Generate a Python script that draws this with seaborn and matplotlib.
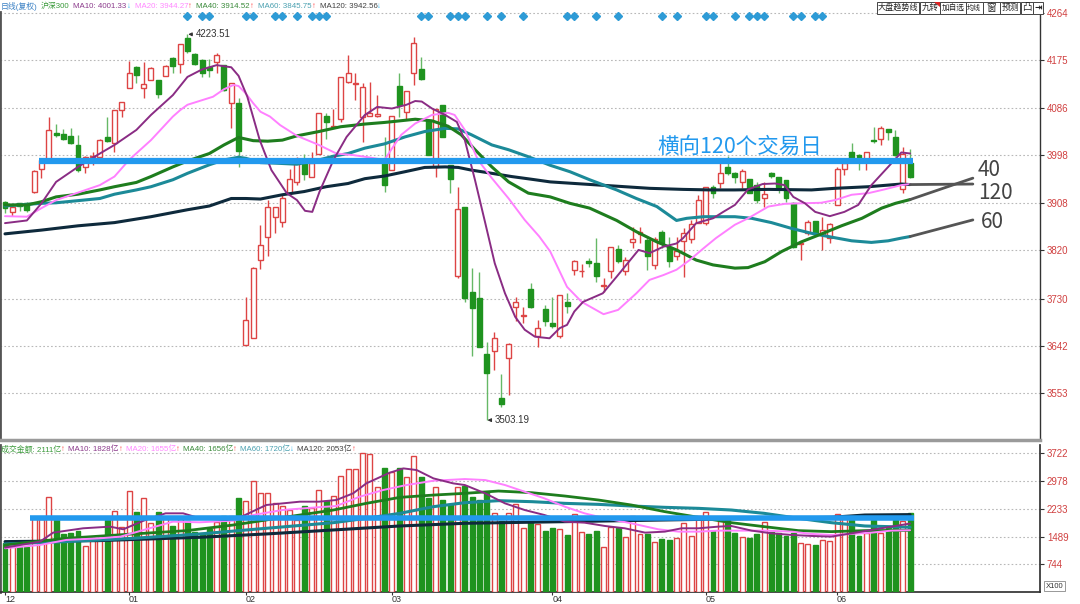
import numpy as np
import pandas as pd
import matplotlib
matplotlib.use("Agg")
import matplotlib.pyplot as plt
import seaborn as sns
from matplotlib.patches import Rectangle, Polygon
from matplotlib import font_manager

# ---------------- data ----------------
opens = [3911, 3891, 3908, 3909, 3930, 3973, 3990, 4040, 4037, 4034,
         4017, 3975, 3994, 3995, 4031, 4020, 4082, 4123, 4163, 4123,
         4138, 4139, 4146, 4179, 4168, 4216, 4187, 4176, 4163, 4172,
         4166, 4095, 4095, 3644, 3656, 3803, 3845, 3882, 3874, 3927,
         3947, 3983, 3957, 4001, 4071, 4051, 4065, 4135, 4131, 4069,
         4071, 4071, 3983, 3971, 4127, 4079, 4152, 4159, 4064, 3976,
         4092, 3980, 3772, 3901, 3743, 3731, 3627, 3633, 3545, 3619,
         3714, 3697, 3748, 3660, 3710, 3685, 3660, 3723, 3784, 3781,
         3801, 3796, 3753, 3782, 3822, 3782, 3835, 3850, 3840, 3793,
         3854, 3827, 3810, 3838, 3841, 3871, 3871, 3939, 3945, 3976,
         3964, 3948, 3953, 3943, 3917, 3965, 3957, 3952, 3909, 3832,
         3852, 3875, 3849, 3843, 3905, 3973, 4003, 3998, 3990, 4026,
         4029, 4047, 4032, 3934, 3983]
highs = [3913, 3905, 3909, 3910, 3970, 3990, 4069, 4057, 4046, 4048,
         4036, 3996, 4003, 4029, 4069, 4083, 4098, 4174, 4164, 4171,
         4163, 4139, 4166, 4182, 4205, 4223.51, 4188, 4177, 4177, 4188,
         4167, 4132, 4104, 3734, 3789, 3868, 3915, 3901, 3924, 3972,
         3995, 4001, 4003, 4077, 4076, 4085, 4144, 4185, 4151, 4132,
         4135, 4110, 4032, 4071, 4151, 4118, 4218, 4182, 4064, 4085,
         4092, 3980, 3938, 3901, 3788, 3779, 3650, 3667, 3589, 3647,
         3734, 3715, 3759, 3691, 3718, 3734, 3736, 3740, 3803, 3794,
         3805, 3843, 3768, 3827, 3831, 3808, 3864, 3864, 3843, 3846,
         3858, 3846, 3846, 3861, 3877, 3924, 3939, 3942, 3983, 3996,
         3967, 3973, 3953, 3948, 3948, 3967, 3958, 3952, 3911, 3836,
         3876, 3875, 3883, 3872, 3976, 3992, 4020, 4000, 4003, 4051,
         4052, 4047, 4045, 4014, 4009]
lows = [3889, 3885, 3893, 3891, 3928, 3955, 3990, 4031, 4026, 4019,
        3967, 3965, 3980, 3995, 4023, 4004, 4070, 4123, 4132, 4104,
        4138, 4104, 4146, 4151, 4151, 4189, 4166, 4143, 4144, 4151,
        4117, 4048, 3975, 3644, 3656, 3785, 3810, 3852, 3863, 3924,
        3942, 3952, 3957, 4001, 4029, 4051, 4059, 4132, 4100, 4023,
        4071, 4069, 3930, 3971, 4070, 4064, 4129, 4138, 3998, 3958,
        4031, 3928, 3768, 3723, 3622, 3639, 3503.19, 3597, 3528, 3550,
        3689, 3684, 3712, 3640, 3679, 3675, 3656, 3703, 3774, 3771,
        3789, 3762, 3743, 3768, 3796, 3774, 3824, 3833, 3783, 3785,
        3824, 3790, 3803, 3771, 3833, 3871, 3867, 3917, 3937, 3961,
        3945, 3936, 3927, 3908, 3902, 3955, 3927, 3911, 3824, 3802,
        3849, 3851, 3821, 3833, 3905, 3961, 3986, 3971, 3970, 4020,
        4017, 4026, 3996, 3928, 3955]
closes = [3899, 3902, 3903, 3896, 3969, 3989, 4045, 4035, 4029, 4020,
          3970, 3994, 3997, 4027, 4025, 4083, 4098, 4152, 4148, 4130,
          4161, 4112, 4164, 4164, 4205, 4193, 4169, 4151, 4157, 4185,
          4120, 4132, 4006, 3690, 3787, 3830, 3901, 3901, 3917, 3953,
          3983, 3963, 3983, 4077, 4059, 4052, 4144, 4151, 4133, 4125,
          4076, 4075, 3942, 4071, 4092, 4118, 4207, 4140, 3998, 4085,
          4031, 3953, 3897, 3731, 3712, 3639, 3592, 3656, 3533, 3645,
          3724, 3700, 3714, 3676, 3688, 3679, 3736, 3716, 3800, 3782,
          3796, 3772, 3755, 3827, 3801, 3803, 3841, 3855, 3810, 3841,
          3833, 3801, 3819, 3852, 3869, 3914, 3938, 3928, 3965, 3964,
          3958, 3969, 3927, 3915, 3925, 3959, 3939, 3917, 3827, 3834,
          3874, 3851, 3858, 3869, 3973, 3983, 3989, 3987, 4003, 4024,
          4048, 4042, 3998, 4001, 3958]
volumes = [1327, 1230, 1220, 1202, 2000, 1950, 2543, 1953, 1560, 1595,
           1640, 1238, 1399, 1399, 1935, 2186, 1756, 2722, 2159, 2516,
           1846, 2141, 1980, 1783, 1953, 1917, 1622, 1577, 1685, 1890,
           2051, 2042, 2516, 2454, 2990, 2668, 2650, 2382, 2320, 2203,
           1935, 2311, 2266, 2740, 2454, 2588, 3124, 3294, 3294, 3742,
           3697, 2829, 3321, 3214, 3339, 3098, 3661, 3080, 2534, 2829,
           2472, 2364, 2829, 2856, 2543, 2472, 2695, 2132, 1917, 2114,
           2355, 1729, 1873, 1828, 1640, 1729, 1703, 1533, 2096, 1622,
           1560, 1649, 1220, 1738, 1712, 1488, 2051, 1551, 1560, 1354,
           1434, 1399, 1461, 1863, 1515, 2050, 2160, 1649, 1908, 1935,
           1595, 1470, 1443, 1551, 1890, 1604, 1595, 1506, 1595, 1309,
           1282, 1264, 1399, 1372, 2096, 1980, 1935, 1506, 1577, 1935,
           1595, 1712, 1935, 1917, 2111]

# price moving averages (bar index, value)
ma10_x = [0, 3, 5, 7, 10, 13, 15, 18, 20, 23, 25, 27, 29, 31, 32, 33.2, 34.9, 36.5, 38.6, 40,
          41.1, 42.1, 43.1, 45, 46.8, 49.3, 51, 53, 55, 56.2, 57.1, 58.5, 60.3, 61.9, 63, 64.4,
          65.8, 67.1, 68.5, 69.9, 71.2, 72.6, 74.6, 76, 77, 78, 79.2, 81.9, 83.8, 86.8, 88.3,
          90.2, 92, 92.9, 94.7, 97, 98.4, 100, 101.8, 103.8, 105.5, 106.8, 108, 109.6, 111, 113,
          115, 116.9, 118.7, 121, 122.8, 124]
ma10_y = [3871, 3876, 3908, 3948, 3976, 4001, 4017, 4045, 4073, 4110, 4144, 4158, 4166, 4162,
          4146, 4107, 4026, 3970, 3927, 3914, 3894, 3892, 3930, 3989, 4032, 4073, 4088, 4085,
          4092, 4099, 4098, 4085, 4073, 4060, 4026, 3951, 3871, 3796, 3740, 3696, 3672, 3659,
          3656, 3675, 3681, 3706, 3724, 3740, 3771, 3821, 3815, 3827, 3833, 3843, 3871, 3880,
          3892, 3905, 3934, 3944, 3945, 3942, 3920, 3908, 3892, 3884, 3892, 3905, 3942, 3976,
          4003, 4001]
ma20_x = [0, 3, 5, 7, 10, 13, 15, 17, 20, 23, 24, 25, 28.5, 30, 31.3, 32, 33, 34, 35, 36.3,
          37.7, 40, 43, 45.4, 47.7, 49.3, 52, 53, 54.3, 56.2, 58.5, 60.7, 61.6, 63, 64.8, 66.7,
          69, 71.2, 73.2, 74.7, 77, 79, 82, 84, 86.5, 88.3, 90.2, 92, 93.8, 95.7, 97.4, 100,
          101.8, 104.6, 106.8, 109, 111.8, 113.7, 116, 118.3, 120.5, 122.8, 124]
ma20_y = [3884, 3883, 3899, 3914, 3928, 3942, 3958, 3989, 4026, 4070, 4082, 4092, 4107, 4121,
          4129, 4127, 4113, 4095, 4079, 4070, 4054, 4034, 4017, 4001, 3998, 3995, 3989, 4010,
          4036, 4057, 4073, 4077, 4073, 4045, 3989, 3955, 3917, 3877, 3846, 3818, 3752, 3724,
          3701, 3709, 3740, 3765, 3774, 3784, 3802, 3824, 3843, 3868, 3880, 3902, 3907, 3908,
          3909, 3914, 3924, 3927, 3934, 3942, 3944]
ma40_x = [0, 3, 5, 7, 10, 13, 15, 18, 20, 23, 25, 28, 30, 32, 34, 36, 38, 40, 43, 46, 49.3,
          52, 56.2, 58.5, 60.7, 62.5, 64.4, 66.7, 69, 71.7, 74.7, 77.4, 80.1, 83.8, 86.5, 89.3,
          92, 94.7, 97, 100, 101.8, 104.1, 106.4, 109.1, 111.9, 114.6, 117.4, 120.1, 122, 124]
ma40_y = [3905, 3905, 3911, 3920, 3925, 3933, 3939, 3947, 3958, 3976, 3987, 4001, 4017, 4031,
          4025, 4024, 4026, 4034, 4042, 4051, 4056, 4059, 4065, 4062, 4052, 4036, 4008, 3976,
          3948, 3927, 3920, 3908, 3899, 3876, 3855, 3836, 3821, 3802, 3793, 3787, 3788, 3799,
          3818, 3836, 3851, 3866, 3880, 3899, 3908, 3915]
ma60_x = [0, 5, 7, 10, 13, 15, 18, 20, 23, 25, 28, 30, 32, 33, 35, 37, 40, 43, 45, 47, 49.3,
          52, 54.8, 57.5, 60.3, 62.1, 63.9, 66.7, 69, 71.7, 74.7, 77.4, 80.1, 83.8, 86.5, 89.3,
          92, 93.4, 95.7, 100, 102.3, 105, 107.8, 110.5, 113.2, 116, 118.7, 121, 122.8, 124]
ma60_y = [3903, 3908, 3909, 3913, 3917, 3925, 3933, 3939, 3952, 3964, 3980, 3989, 3994, 3992,
          3984, 3983, 3981, 3989, 3996, 4001, 4011, 4019, 4032, 4042, 4048, 4047, 4036, 4017,
          4008, 3995, 3979, 3967, 3952, 3933, 3917, 3902, 3876, 3880, 3883, 3883, 3880, 3872,
          3861, 3852, 3845, 3838, 3835, 3838, 3843, 3846]
ma120_x = [0, 5, 10, 15, 20, 25, 28, 31, 33, 35, 38, 41, 44, 47, 49.3, 52, 54.8, 57.5, 60.3,
           62.1, 63.9, 66.7, 69.4, 72.1, 74.7, 79.2, 83.8, 88.3, 92.9, 96.6, 100, 104.6, 110.5,
           113.7, 118.3, 122.8, 124]
ma120_y = [3851, 3858, 3866, 3872, 3883, 3896, 3903, 3917, 3917, 3916, 3924, 3930, 3939, 3945,
           3954, 3959, 3967, 3975, 3976, 3975, 3970, 3964, 3958, 3953, 3948, 3944, 3940, 3936,
           3934, 3933, 3933, 3934, 3933, 3936, 3939, 3944, 3943]

# volume moving averages (bar index, value in 亿)
vma10_x = [0, 4.8, 6.6, 10.7, 14.4, 16.2, 19, 22, 24.4, 26.7, 30.4, 32.6, 35.8, 40.4, 43, 45.4,
           47.7, 49.5, 52.7, 54.6, 56.4, 58.7, 61.4, 63, 65.8, 68.5, 71.2, 73.9, 76.7, 79.4,
           82.2, 84.9, 87.7, 90.4, 92.7, 95, 97.7, 99.5, 102.3, 105, 107.8, 110.5, 113.2, 116,
           118.7, 121.4, 124]
vma10_y = [1193, 1354, 1595, 1712, 1756, 1685, 1917, 2114, 2114, 1980, 1935, 2042, 2338, 2427,
           2427, 2472, 2651, 2919, 3205, 3321, 3277, 3053, 2919, 2874, 2651, 2382, 2203, 2069,
           1890, 1863, 1774, 1712, 1595, 1622, 1712, 1712, 1756, 1774, 1649, 1577, 1533, 1506,
           1488, 1577, 1667, 1756, 1840]
vma20_x = [0, 4.8, 8.4, 13, 15.8, 19, 23, 26.7, 31.3, 34, 38, 42.7, 45.4, 48.6, 51.8, 55, 58.7,
           63, 65.8, 68.5, 71.2, 73.9, 76.7, 79.4, 82.2, 85.8, 89.5, 92.3, 95, 97.7, 100.5, 104,
           107.8, 110.5, 113.2, 116, 118.7, 121.4, 124]
vma20_y = [1175, 1264, 1399, 1443, 1488, 1667, 1890, 1873, 1917, 2069, 2203, 2275, 2311, 2561,
           2740, 2874, 2990, 3035, 3008, 2874, 2695, 2516, 2293, 2114, 1980, 1846, 1685, 1622,
           1622, 1649, 1649, 1649, 1622, 1560, 1533, 1560, 1595, 1649, 1660]
vma40_x = [0, 8.4, 17.6, 24.9, 31.3, 35.8, 40.4, 45, 49.5, 54.1, 58.7, 63, 67.6, 72.2, 76.7,
           81.3, 85.8, 90.4, 95, 99.5, 104, 108.7, 113.2, 117.8, 124]
vma40_y = [1264, 1443, 1560, 1649, 1801, 1935, 2069, 2203, 2382, 2543, 2605, 2651, 2713, 2668,
           2579, 2472, 2338, 2159, 2007, 1863, 1756, 1649, 1622, 1649, 1656]
vma60_x = [0, 8.4, 17.6, 26.7, 35.8, 45, 49.5, 54.1, 58.7, 63, 67.6, 72.2, 76.7, 81.3, 85.8,
           90.4, 95, 99.5, 104, 108.7, 113.2, 117.8, 124]
vma60_y = [1291, 1354, 1443, 1560, 1712, 1863, 1980, 2114, 2293, 2400, 2454, 2427, 2382, 2355,
           2311, 2275, 2248, 2203, 2114, 1980, 1863, 1774, 1740]
vma120_x = [0, 13, 26.7, 35.8, 45, 54.1, 63, 76.7, 90.4, 104, 113.2, 117.8, 124]
vma120_y = [1354, 1381, 1470, 1560, 1667, 1774, 1846, 1890, 1935, 1980, 2007, 2069, 2080]

price_ticks = [4264, 4175, 4086, 3998, 3908, 3820, 3730, 3642, 3553]
vol_ticks = [3722, 2978, 2233, 1489, 744]
month_idx = [0, 17, 33, 53, 75, 96, 114]
month_lab = ["12", "01", "02", "03", "04", "05", "06"]
signal_idx = [25, 27, 28, 33, 34, 37, 38, 40, 42, 43, 44, 57, 58, 61, 62, 63, 66, 68, 71,
              77, 78, 81, 84, 90, 92, 96, 97, 100, 102, 103, 104, 108, 109, 111, 112]

price_level = 3987
vol_level = 1990
ext_40 = [3915, 3955]
ext_120 = [3943, 3944]
ext_60 = [3846, 3877]

# ---------------- style ----------------
sns.set_theme(style="white")
plt.rcParams["font.family"] = ["Noto Sans CJK SC", "DejaVu Sans"]
plt.rcParams["axes.unicode_minus"] = False
installed = {f.name for f in font_manager.fontManager.ttflist}
SMALL_FONT = [f for f in ["Liberation Sans Narrow", "Liberation Sans"] if f in installed][:1] \
    + ["Noto Sans CJK SC", "DejaVu Sans"]

RED = "#dd4444"
GREEN = "#1f931f"
GREEN_W = "#66b866"
C10, C20, C40, C60, C120 = "#8a2c84", "#ff80ff", "#1e7d1e", "#1c8a98", "#0e2a3c"
BLUE = "#2299ee"

W, H = 1080, 604
fig = plt.figure(figsize=(W / 100, H / 100), dpi=100)
fig.patch.set_facecolor("white")
renderer = fig.canvas.get_renderer()


def fx(px):
    return px / W


def fy(py):
    return 1 - py / H


ax1 = fig.add_axes([0.0, fy(440), fx(1040), (440 - 12) / H])
ax2 = fig.add_axes([0.0, fy(592), fx(1040), (592 - 445) / H])

n = len(closes)
idx = np.arange(n)
o = np.array(opens, float)
c = np.array(closes, float)
hi = np.array(highs, float)
lo = np.array(lows, float)
up = c >= o

XMIN, XMAX = -0.685, 141.8

# ---------------- price pane ----------------
wick_cols = [RED if u else GREEN_W for u in up]
ax1.vlines(idx, lo, hi, colors=wick_cols, lw=1.0, zorder=2)
body_h = np.maximum(np.abs(c - o), 0.9)
body_b = np.minimum(o, c)
ax1.bar(idx, body_h, bottom=body_b, width=0.68,
        color=["white" if u else GREEN for u in up],
        edgecolor=[RED if u else GREEN for u in up], linewidth=1.0, zorder=3)

for xs, ys, col, lw in [(ma120_x, ma120_y, C120, 2.2), (ma60_x, ma60_y, C60, 2.2),
                        (ma40_x, ma40_y, C40, 2.2), (ma20_x, ma20_y, C20, 1.4),
                        (ma10_x, ma10_y, C10, 1.4)]:
    sns.lineplot(x=xs, y=ys, ax=ax1, color=col, linewidth=lw, estimator=None,
                 sort=False, legend=False, zorder=4)

ax1.hlines(price_level, 4.6, 124.4, colors=BLUE, lw=4.5, zorder=6)
ax1.text(89.4, 4013, "横向120个交易日", color=BLUE, fontsize=15.5, ha="left",
         va="center", zorder=7)

for vals in (ext_40, ext_120, ext_60):
    ax1.plot([124, 132.6], vals, color="#555555", lw=2, zorder=5)
ax1.text(133.3, 3970, "40", fontsize=15, color="#444444", ha="left", va="center")
ax1.text(133.3, 3927, "120", fontsize=15, color="#444444", ha="left", va="center")
ax1.text(133.7, 3874, "60", fontsize=15, color="#444444", ha="left", va="center")

imax = int(np.argmax(hi))
imin = int(np.argmin(lo))
arrow = dict(arrowstyle="-|>", color="#333333", lw=0.8, mutation_scale=5,
             shrinkA=0, shrinkB=0)
ax1.annotate(f"{hi[imax]:.2f}", xy=(imax + 0.1, hi[imax]), xytext=(imax + 1.1, hi[imax]),
             fontsize=7, family=SMALL_FONT, color="#333333", va="center", ha="left",
             arrowprops=arrow)
ax1.annotate(f"{lo[imin]:.2f}", xy=(imin + 0.1, lo[imin]), xytext=(imin + 1.1, lo[imin]),
             fontsize=7, family=SMALL_FONT, color="#333333", va="center", ha="left",
             arrowprops=arrow)

ax1.plot(signal_idx, [0.991] * len(signal_idx), ls="none", marker="D", ms=3.6,
         color="#2e9bd6", transform=ax1.get_xaxis_transform(), clip_on=False, zorder=8)

ax1.set_xlim(XMIN, XMAX)
ax1.set_ylim(3466.1, 4265.2)
ax1.set_xticks([])
ax1.set_yticks(price_ticks)
ax1.set_yticklabels([str(t) for t in price_ticks], family=SMALL_FONT)
ax1.yaxis.tick_right()
ax1.tick_params(axis="y", colors="#333333", labelcolor="#d04040", labelsize=7,
                length=3, width=0.8, pad=2, direction="out", right=True, left=False)
ax1.grid(axis="y", color="#b8b8b8", ls=(0, (1.5, 2)), lw=0.8)
ax1.grid(axis="x", visible=False)
ax1.set_xlabel("")
ax1.set_ylabel("")
ax1.spines["top"].set_visible(False)
ax1.spines["left"].set_color("#555555")
ax1.spines["left"].set_linewidth(2)
ax1.spines["right"].set_color("#333333")
ax1.spines["right"].set_linewidth(1)
ax1.spines["bottom"].set_color("#9a9a9a")
ax1.spines["bottom"].set_linewidth(2.5)

# ---------------- volume pane ----------------
ax2.bar(idx, volumes, width=0.68,
        color=["white" if u else GREEN for u in up],
        edgecolor=[RED if u else GREEN for u in up], linewidth=1.0, zorder=3)
for xs, ys, col, lw in [(vma120_x, vma120_y, C120, 2.2), (vma60_x, vma60_y, C60, 2.2),
                        (vma40_x, vma40_y, C40, 2.0), (vma20_x, vma20_y, C20, 1.4),
                        (vma10_x, vma10_y, C10, 1.4)]:
    sns.lineplot(x=xs, y=ys, ax=ax2, color=col, linewidth=lw, estimator=None,
                 sort=False, legend=False, zorder=4)
ax2.hlines(vol_level, 3.4, 124.5, colors=BLUE, lw=4, zorder=6)

ax2.set_xlim(XMIN, XMAX)
ax2.set_ylim(0, 3950)
ax2.set_yticks(vol_ticks)
ax2.set_yticklabels([str(t) for t in vol_ticks], family=SMALL_FONT)
ax2.yaxis.tick_right()
ax2.tick_params(axis="y", colors="#333333", labelcolor="#d04040", labelsize=7,
                length=3, width=0.8, pad=2, direction="out", right=True, left=False)
ax2.set_xticks(month_idx)
ax2.set_xticklabels(month_lab, family=SMALL_FONT)
for lab in ax2.get_xticklabels():
    lab.set_ha("left")
ax2.tick_params(axis="x", labelsize=6.5, labelcolor="#333333", colors="#333333",
                length=2, width=0.8, pad=0.5, direction="out", bottom=True)
ax2.grid(axis="y", color="#b8b8b8", ls=(0, (1.5, 2)), lw=0.8)
ax2.grid(axis="x", visible=False)
ax2.set_xlabel("")
ax2.set_ylabel("")
ax2.spines["top"].set_visible(False)
ax2.spines["left"].set_color("#555555")
ax2.spines["left"].set_linewidth(2)
ax2.spines["right"].set_color("#333333")
ax2.spines["bottom"].set_color("#333333")


# ---------------- header texts (laid out one after another) ----------------
def text_row(items, x_start, x_end, y_px, base_fs=7.5):
    """items: (text, colour, gap_before_px). Font size is fitted to the span."""
    def widths(fs):
        out = []
        for t, col, g in items:
            tt = fig.text(0, 0, t, fontsize=fs, family=SMALL_FONT)
            out.append(tt.get_window_extent(renderer=renderer).width)
            tt.remove()
        return out
    w0 = widths(base_fs)
    gaps = sum(g for _, _, g in items[1:])
    fs = base_fs * (x_end - x_start - gaps) / sum(w0)
    fs = min(fs, base_fs)
    ws = widths(fs)
    x = x_start
    for k, (t, col, g) in enumerate(items):
        if k > 0:
            x += g
        fig.text(fx(x), fy(y_px), t, color=col, fontsize=fs, family=SMALL_FONT,
                 ha="left", va="center")
        x += ws[k]


CY = "#30b8ee"
RA = "#ff4a4a"
top_items = [("日线(复权)", "#3a80c4", 0), ("沪深300", "#3a9a3a", 3),
             ("MA10: 4001.33", "#8b3a8b", 4), ("↓", CY, 0),
             ("MA20: 3944.27", "#ff88ff", 4), ("↑", RA, 0),
             ("MA40: 3914.52", "#3a8a3a", 4), ("↑", RA, 0),
             ("MA60: 3845.75", "#4aa0b0", 4), ("↑", RA, 0),
             ("MA120: 3942.56", "#404040", 4), ("↓", CY, 0)]
text_row(top_items, 1, 380, 6.5)

vol_items = [("成交金额: 2111亿", "#3a9a3a", 0), ("↑", RA, 0),
             ("MA10: 1828亿", "#8b3a8b", 3), ("↑", RA, 0),
             ("MA20: 1655亿", "#ff88ff", 3), ("↑", RA, 0),
             ("MA40: 1656亿", "#3a8a3a", 3), ("↑", RA, 0),
             ("MA60: 1720亿", "#4aa0b0", 3), ("↓", CY, 0),
             ("MA120: 2053亿", "#404040", 3), ("↑", RA, 0)]
text_row(vol_items, 1, 358, 449.5)

# toolbar buttons at the top right
buttons = [("大盘趋势线", 876.5, 919.5), ("九转", 920, 939.5), ("加自选", 940, 965.5),
           ("均线", 966, 982.5), ("窗", 983, 999.5), ("预测", 1000, 1020),
           ("凸", 1020.5, 1032.5), ("⇥", 1033, 1043)]
for t, x0, x1 in buttons:
    fig.patches.append(Rectangle((fx(x0), fy(13.5)), fx(x1) - fx(x0), 12 / H,
                                 transform=fig.transFigure, fill=True, fc="white",
                                 ec="#444444", lw=0.7))
    tt = fig.text(0, 0, t, fontsize=7)
    wt = tt.get_window_extent(renderer=renderer).width
    tt.remove()
    fs = min(7.0, 7.0 * (x1 - x0 - 2.5) / wt)
    fig.text(fx((x0 + x1) / 2), fy(7.5), t, fontsize=fs, color="#222222",
             ha="center", va="center", fontweight="bold" if t == "⇥" else "normal")
fig.patches.append(Polygon([[fx(934), fy(1.5)], [fx(939.5), fy(1.5)], [fx(939.5), fy(7)]],
                           closed=True, transform=fig.transFigure, fc="#dd2222", ec="none"))
fig.text(fx(1046), fy(586), "X100", fontsize=5.5, family=SMALL_FONT, color="#333333",
         ha="left", va="center",
         bbox=dict(boxstyle="square,pad=0.2", fc="white", ec="#888888", lw=0.6))

fig.savefig("out.png", dpi=100, facecolor="white")
